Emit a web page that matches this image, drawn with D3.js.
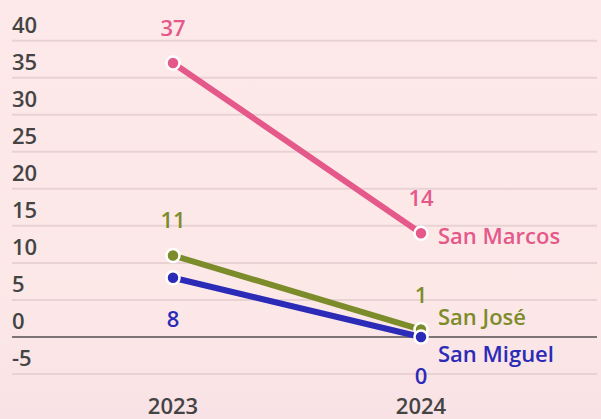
<!DOCTYPE html>
<html><head><meta charset="utf-8">
<script src="https://cdn.jsdelivr.net/npm/d3@7"></script>
<style>
html,body{margin:0;padding:0;}
body{width:601px;height:419px;overflow:hidden;}
svg{display:block;font-family:"Open Sans",sans-serif;}
</style></head><body>
<svg id="c" width="601" height="419"></svg>
<script>
const years = ["2023","2024"];
const seriesNames = ["San Marcos","San José","San Miguel"];
const valuesSanMarcos = [37,14];
const valuesSanJose = [11,1];
const valuesSanMiguel = [8,0];
const yTicks = [40,35,30,25,20,15,10,5,0,-5];

const colors = {"San Marcos":"#e5588a","San José":"#7c8c2b","San Miguel":"#2b2bb8"};
const valueLabelPos = {"San Marcos":["above","above"],"San José":["above","above"],"San Miguel":["below","below"]};
const nameDy = {"San Marcos":11,"San José":-5,"San Miguel":25};

const series = [
  {name:seriesNames[0], values:valuesSanMarcos},
  {name:seriesNames[1], values:valuesSanJose},
  {name:seriesNames[2], values:valuesSanMiguel}
];

const FS = 22;
const svg = d3.select("#c");
const defs = svg.append("defs");
const grad = defs.append("linearGradient").attr("id","bg").attr("x1",0).attr("y1",0).attr("x2",0).attr("y2",1);
grad.append("stop").attr("offset","0%").attr("stop-color","#fde9e9");
grad.append("stop").attr("offset","70%").attr("stop-color","#fde8e8");
grad.append("stop").attr("offset","100%").attr("stop-color","#f8e2e5");
svg.append("rect").attr("width",601).attr("height",419).attr("fill","url(#bg)");

const x = d3.scalePoint().domain(years).range([173,421]);
const y = d3.scaleLinear().domain([-5,40]).range([374,40.7]);

const grid = svg.append("g");
grid.selectAll("line").data(yTicks).join("line")
  .attr("x1",12).attr("x2",597)
  .attr("y1",d=>y(d)).attr("y2",d=>y(d))
  .attr("stroke",d=>d===0?"#7d7475":"#e8d2d3")
  .attr("stroke-width",2);
grid.selectAll("text").data(yTicks).join("text")
  .attr("x",12).attr("y",d=>y(d)-8)
  .attr("fill","#444").attr("font-size",FS).attr("font-weight",600)
  .text(d=>d);

svg.append("g").selectAll("text").data(years).join("text")
  .attr("x",d=>x(d)).attr("y",413.5).attr("text-anchor","middle")
  .attr("fill","#444").attr("font-size",FS).attr("font-weight",600)
  .text(d=>d);

const line = d3.line().x((d,i)=>x(years[i])).y(d=>y(d));

const g = svg.append("g");
series.forEach(s=>{
  g.append("path").datum(s.values).attr("d",line)
    .attr("fill","none").attr("stroke",colors[s.name]).attr("stroke-width",6).attr("stroke-linecap","round");
});
series.forEach(s=>{
  g.selectAll(null).data(s.values).join("circle")
    .attr("cx",(d,i)=>x(years[i])).attr("cy",d=>y(d)).attr("r",6.5)
    .attr("fill",colors[s.name]).attr("stroke","#fff").attr("stroke-width",2.5);
});
series.forEach(s=>{
  g.selectAll(null).data(s.values).join("text")
    .attr("x",(d,i)=>x(years[i]))
    .attr("y",(d,i)=>valueLabelPos[s.name][i]==="above"? y(d)-27 : y(d)+(i===0?49:47))
    .attr("text-anchor","middle").attr("fill",colors[s.name])
    .attr("font-size",FS).attr("font-weight",600).text(d=>d);
  const last = s.values[s.values.length-1];
  g.append("text").attr("x",x(years[years.length-1])+17).attr("y",y(last)+nameDy[s.name])
    .attr("fill",colors[s.name]).attr("font-size",FS).attr("font-weight",600).text(s.name);
});
</script>
</body></html>
